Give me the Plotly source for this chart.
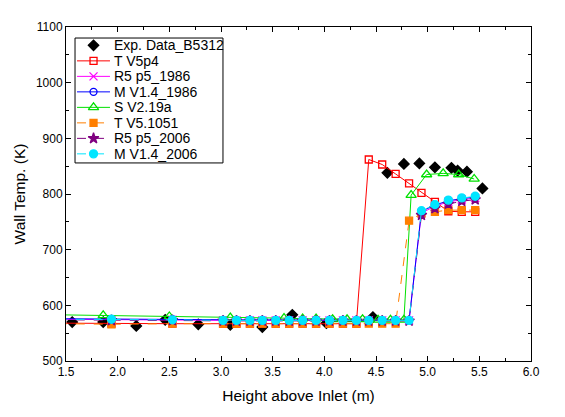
import plotly.graph_objects as go

# ---- data ----
exp_x = [1.56, 1.86, 2.18, 2.46, 2.78, 3.09, 3.40, 3.69, 4.02, 4.47,
         4.61, 4.77, 4.92, 5.07, 5.23, 5.29, 5.38, 5.53]
exp_y = [570, 570, 563, 574, 566, 565, 561, 583, 568, 579,
         838, 854, 855, 848, 847, 842, 840, 810]

nodes_x = [1.42, 1.94, 2.53, 3.02, 3.15, 3.28, 3.40, 3.53, 3.66, 3.79, 3.92, 4.05,
           4.18, 4.31, 4.43, 4.56, 4.69, 4.82, 4.94, 5.07, 5.20, 5.33, 5.46]

tv5p4_y = [568, 567, 567, 567, 567, 567, 567, 567, 567, 567, 567, 567,
           567, 567, 862, 853, 836, 819, 802, 786, 769, 768, 768]
r5_1986_y = [575, 574, 574, 573, 573, 573, 573, 573, 573, 573, 573, 573,
             573, 573, 573, 573, 573, 573, 766, 778, 786, 790, 793]
m_1986_y = [576, 575, 575, 574, 574, 574, 574, 574, 574, 574, 574, 574,
            574, 573, 573, 573, 573, 573, 769, 780, 788, 792, 795]
tv51051_y = [567, 566, 567, 567, 567, 567, 567, 567, 567, 567, 567, 567,
             567, 567, 567, 567, 567, 752, 765, 768, 771, 771, 771]
r5_2006_y = [574, 573, 573, 572, 572, 572, 572, 572, 572, 572, 572, 572,
             572, 572, 572, 572, 572, 572, 762, 774, 782, 787, 790]
m_2006_y = [575, 575, 574, 573, 573, 573, 573, 573, 573, 573, 573, 573,
            573, 573, 573, 573, 573, 573, 770, 781, 789, 793, 796]

s_x = [1.42, 1.86, 2.50, 3.09, 3.61, 3.79, 3.92, 4.08, 4.22, 4.37, 4.52, 4.64, 4.77,
       4.84, 4.99, 5.15, 5.30, 5.45]
s_y = [583, 582, 580, 578, 577, 576, 576, 575, 575, 575, 574, 574, 574,
       798, 835, 837, 835, 827]

series_names = ["Exp. Data_B5312", "T V5p4", "R5 p5_1986", "M V1.4_1986",
                "S V2.19a", "T V5.1051", "R5 p5_2006", "M V1.4_2006"]

x_ticks = [1.5, 2.0, 2.5, 3.0, 3.5, 4.0, 4.5, 5.0, 5.5, 6.0]
x_tick_text = ["1.5", "2.0", "2.5", "3.0", "3.5", "4.0", "4.5", "5.0", "5.5", "6.0"]
y_ticks = [500, 600, 700, 800, 900, 1000, 1100]

FONT = "Liberation Sans, Arial, sans-serif"

# (mode, color, dash, symbol, size)
styles = [
    ("markers", "black", "solid", "diamond", 8),
    ("lines+markers", "#ff0000", "solid", "square-open", 7),
    ("lines+markers", "#ff00ff", "solid", "x-thin-open", 8),
    ("lines+markers", "#0000ff", "solid", "circle-open", 7),
    ("lines+markers", "#00e000", "solid", "triangle-up-open", 9),
    ("lines+markers", "#ff7f00", "dash", "square", 7),
    ("lines+markers", "#800080", "dash", "star", 8),
    ("lines+markers", "#00e5ff", "dash", "circle", 8),
]

series_data = [
    (exp_x, exp_y), (nodes_x, tv5p4_y), (nodes_x, r5_1986_y), (nodes_x, m_1986_y),
    (s_x, s_y), (nodes_x, tv51051_y), (nodes_x, r5_2006_y), (nodes_x, m_2006_y),
]

fig = go.Figure()

for (xs, ys), name, (mode, color, dash, symbol, size) in zip(series_data, series_names, styles):
    fig.add_trace(go.Scatter(
        x=xs, y=ys, mode=mode, name=name, showlegend=False,
        line=dict(color=color, dash=dash, width=1),
        marker=dict(symbol=symbol, size=size, color=color,
                    line=dict(color=color, width=1.3))))

# ---- custom legend (overlay axes with range 0..1 == plot-area fraction) ----
leg_x0, leg_x1 = 0.0194, 0.3376
leg_y0, leg_y1 = 0.593, 0.967
row_top = 0.945
row_step = 0.0464
samp_x0, samp_x1, samp_xm = 0.0237, 0.0946, 0.0592
text_x = 0.099

for i, (name, (mode, color, dash, symbol, size)) in enumerate(zip(series_names, styles)):
    ry = row_top - i * row_step
    if mode != "markers":
        fig.add_trace(go.Scatter(x=[samp_x0, samp_x1], y=[ry, ry], mode="lines",
                                 xaxis="x2", yaxis="y2", showlegend=False, hoverinfo="skip",
                                 line=dict(color=color, dash=dash, width=1)))
    fig.add_trace(go.Scatter(x=[samp_xm], y=[ry], mode="markers",
                             xaxis="x2", yaxis="y2", showlegend=False, hoverinfo="skip",
                             marker=dict(symbol=symbol, size=size, color=color,
                                         line=dict(color=color, width=1.3))))
    fig.add_annotation(x=text_x, y=ry, xref="paper", yref="paper", text=name,
                       showarrow=False, xanchor="left", yanchor="middle",
                       font=dict(family=FONT, size=14, color="black"))

fig.add_shape(type="rect", xref="paper", yref="paper", x0=leg_x0, x1=leg_x1,
              y0=leg_y0, y1=leg_y1, line=dict(color="black", width=1))

axis_common = dict(showline=True, linecolor="black", linewidth=1, mirror="ticks",
                   ticks="inside", ticklen=5, tickcolor="black", showgrid=False,
                   zeroline=False, automargin=False,
                   tickfont=dict(family=FONT, size=12, color="black"))

fig.update_layout(
    width=557, height=409,
    margin=dict(l=58, r=34, t=19, b=56),
    plot_bgcolor="white", paper_bgcolor="white",
    font=dict(family=FONT, size=13, color="black"),
    showlegend=False,
    xaxis=dict(range=[1.5, 6.0], tickvals=x_ticks, ticktext=x_tick_text,
               title=dict(text="Height above Inlet (m)",
                          font=dict(family=FONT, size=15.5, color="black"), standoff=11),
               minor=dict(ticks="inside", ticklen=3, dtick=0.25, tick0=1.5, tickcolor="black"),
               **axis_common),
    yaxis=dict(range=[500, 1100], tickvals=y_ticks,
               title=dict(text="Wall Temp. (K)",
                          font=dict(family=FONT, size=15.5, color="black"), standoff=6),
               minor=dict(ticks="inside", ticklen=3, dtick=50, tick0=500, tickcolor="black"),
               **axis_common),
    xaxis2=dict(overlaying="x", range=[0, 1], visible=False, fixedrange=True),
    yaxis2=dict(overlaying="y", range=[0, 1], visible=False, fixedrange=True),
)

fig.write_html("out.html")
